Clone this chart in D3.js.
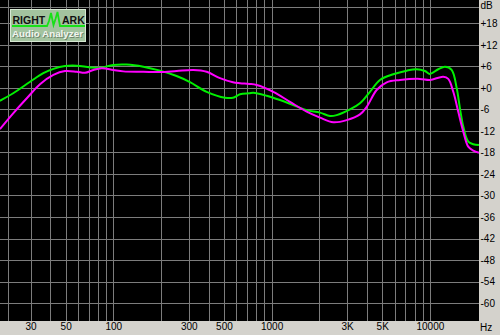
<!DOCTYPE html>
<html>
<head>
<meta charset="utf-8">
<script src="https://cdn.jsdelivr.net/npm/d3@7"></script>
<style>
  body { margin: 0; background: #d4d2cc; }
  svg { display: block; }
</style>
</head>
<body>
<div id="chart"></div>
<script>
const greenHz = [ 19.2, 23.3, 29.8, 36.1, 41.8, 49.5, 58.7, 71.2, 82.4, 100, 121.5, 154.7, 197, 251, 305, 389, 508, 570, 632, 723, 766, 931, 1130, 1371, 1666, 2022, 2338, 2578, 3128, 3617, 4184, 4839, 5872, 7136, 8251, 9311, 10010, 11300, 12460, 13730, 14770, 15490, 16260, 17480, 18800, 20430 ];
const greenDb = [ -3.6, -1.5, 1.7, 4.1, 5.3, 6.1, 6.2, 5.7, 5.6, 6.4, 6.5, 5.9, 4.8, 3.3, 1.6, -1.1, -2.75, -2.75, -1.8, -1.5, -1.35, -2.2, -3.4, -4.8, -6.2, -6.9, -7.85, -7.6, -6.0, -4.3, -1.1, 2.2, 3.8, 4.8, 5.2, 4.7, 3.9, 5.2, 5.9, 5.0, 0.0, -5.7, -10.8, -15.0, -15.7, -15.9 ];

const magentaHz = [ 19.2, 23.3, 28.4, 34.4, 41.8, 49.5, 58.7, 66.3, 74.7, 84.5, 100, 115.7, 154.7, 197, 251, 320, 389, 472, 570, 632, 723, 805, 1025, 1307, 1666, 2022, 2453, 2982, 3617, 3988, 4612, 5336, 6474, 8658, 10010, 12150, 13070, 14060, 15120, 16260, 17480, 18800, 20430 ];
const magentaDb = [ -11.5, -7.1, -2.9, 1.0, 3.6, 4.7, 4.5, 4.2, 5.0, 5.45, 5.0, 4.6, 4.5, 4.4, 4.7, 5.0, 4.5, 2.7, 1.55, 1.3, 1.1, 0.8, -1.1, -3.9, -6.65, -8.3, -9.6, -9.0, -7.4, -5.3, -0.6, 1.55, 2.2, 2.5, 2.2, 3.1, 2.5, -1.1, -6.65, -12.2, -16.4, -17.5, -18.1 ];

const gridHz = [ 30, 40, 50, 60, 70, 80, 90, 100, 200, 300, 400, 500, 600, 700, 800, 900,
  1000, 2000, 3000, 4000, 5000, 6000, 7000, 8000, 9000, 10000 ];
const hzTicks = [ 30, 50, 100, 300, 500, 1000, 3000, 5000, 10000 ];
const hzLabels = [ '30', '50', '100', '300', '500', '1000', '3K', '5K', '10000' ];
const dbTicks = [ 18, 12, 6, 0, -6, -12, -18, -24, -30, -36, -42, -48, -54, -60 ];

const width = 500;
const height = 335;
const plotW = 479;
const plotH = 321;
const frame = 8;
const font = '"Liberation Sans Narrow", "Arial Narrow", "Liberation Sans", sans-serif';

const x = d3.scaleLog().domain([ 20, 20000 ]).range([ 2.7, 477.5 ]);
const y = d3.scaleLinear().domain([ -65, 24.5 ]).range([ plotH, 0 ]);
const px = v => Math.round(v) + 0.5;

const svg = d3.select('#chart').append('svg')
  .attr('width', width)
  .attr('height', height)
  .attr('viewBox', [ 0, 0, width, height ]);

svg.append('rect')
  .attr('width', plotW)
  .attr('height', plotH)
  .attr('fill', '#000');

// grid
const grid = svg.append('g')
  .attr('stroke', '#7c7c7c')
  .attr('stroke-width', 1);

grid.selectAll('.gx')
    .data(gridHz)
  .enter().append('line')
    .attr('x1', d => px(x(d)))
    .attr('x2', d => px(x(d)))
    .attr('y1', 0)
    .attr('y2', plotH);

grid.selectAll('.gy')
    .data(dbTicks)
  .enter().append('line')
    .attr('x1', 0)
    .attr('x2', plotW)
    .attr('y1', d => px(y(d)))
    .attr('y2', d => px(y(d)));

grid.append('line')
  .attr('x1', frame + 0.5).attr('x2', frame + 0.5)
  .attr('y1', 0).attr('y2', plotH);
grid.append('line')
  .attr('x1', 0).attr('x2', plotW)
  .attr('y1', frame - 0.5).attr('y2', frame - 0.5);

// logo
const logo = svg.append('g');
logo.append('rect')
  .attr('x', 10.5).attr('y', 9.5)
  .attr('width', 75).attr('height', 32)
  .attr('fill', '#a3c39f')
  .attr('stroke', '#d6e8d2');
logo.append('text')
  .attr('x', 12.5).attr('y', 24)
  .attr('font-family', 'Arial, "Liberation Sans", sans-serif')
  .attr('font-weight', 'bold')
  .attr('font-size', 10.5)
  .attr('fill', '#111')
  .text('RIGHT');
logo.append('text')
  .attr('x', 62).attr('y', 24)
  .attr('font-family', 'Arial, "Liberation Sans", sans-serif')
  .attr('font-weight', 'bold')
  .attr('font-size', 10.5)
  .attr('fill', '#111')
  .text('ARK');
logo.append('path')
  .attr('d', 'M12,26H47L49,21L51,13L53.5,25L55.5,19L57.5,12L60,26H85')
  .attr('fill', 'none')
  .attr('stroke', '#18e018')
  .attr('stroke-width', 1.8);
logo.append('text')
  .attr('x', 13).attr('y', 38)
  .attr('font-family', 'Arial, "Liberation Sans", sans-serif')
  .attr('font-weight', 'bold')
  .attr('font-size', 9.8)
  .attr('fill', '#6f866c')
  .text('Audio Analyzer');
logo.append('text')
  .attr('x', 12).attr('y', 37)
  .attr('font-family', 'Arial, "Liberation Sans", sans-serif')
  .attr('font-weight', 'bold')
  .attr('font-size', 9.8)
  .attr('fill', '#f2f6f0')
  .text('Audio Analyzer');

// curves
const line = d3.line()
  .x(d => x(d[0]))
  .y(d => y(d[1]))
  .curve(d3.curveCatmullRom.alpha(0.5));

const series = [
  { hz: greenHz, db: greenDb, color: '#00f000' },
  { hz: magentaHz, db: magentaDb, color: '#ff00ff' }
];

svg.append('g')
  .selectAll('path')
    .data(series)
  .enter().append('path')
    .attr('d', s => line(s.hz.map((h, i) => [ h, s.db[i] ])))
    .attr('fill', 'none')
    .attr('stroke', s => s.color)
    .attr('stroke-width', 2);

// axes
svg.append('g')
  .attr('transform', `translate(0,${plotH})`)
  .call(d3.axisBottom(x)
    .tickValues(hzTicks)
    .tickFormat((d, i) => hzLabels[i])
    .tickSize(0)
    .tickPadding(1.8))
  .call(g => g.select('.domain').remove())
  .call(g => g.selectAll('text')
    .attr('font-family', font)
    .attr('font-size', 10)
    .attr('fill', '#000'));

svg.append('g')
  .attr('transform', `translate(${plotW},0)`)
  .call(d3.axisRight(y)
    .tickValues(dbTicks)
    .tickFormat(d => (d >= 0 ? '+' : '') + d)
    .tickSize(0)
    .tickPadding(1.5))
  .call(g => g.select('.domain').remove())
  .call(g => g.selectAll('text')
    .attr('font-family', font)
    .attr('font-size', 10)
    .attr('fill', '#000'));

svg.append('text')
  .attr('x', 480.5).attr('y', 8.5)
  .attr('font-family', font)
  .attr('font-size', 10)
  .text('dB');

svg.append('text')
  .attr('x', 480).attr('y', 331)
  .attr('font-family', font)
  .attr('font-size', 10)
  .text('Hz');
</script>
</body>
</html>
